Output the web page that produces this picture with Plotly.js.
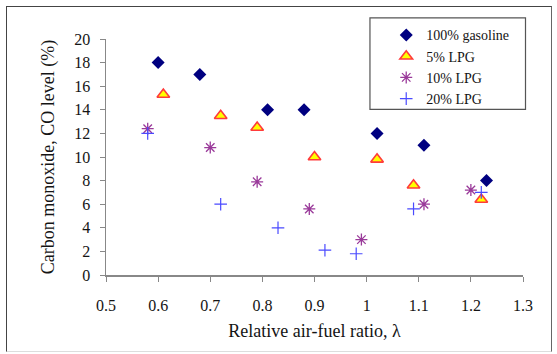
<!DOCTYPE html>
<html>
<head>
<meta charset="utf-8">
<script src="https://cdn.plot.ly/plotly-3.0.1.min.js"></script>
<style>
  html, body { margin: 0; padding: 0; background: #fff; }
  #wrap { position: relative; width: 557px; height: 354px; overflow: hidden; }
  #chart { position: absolute; left: 0; top: 0; width: 557px; height: 354px; }
  #frame { position: absolute; left: 6px; top: 6px; width: 544px; height: 344px;
           border-left: 1px solid #444; border-top: 1px solid #444; border-right: 1px solid #666;
           border-bottom: 1px solid #ddd; pointer-events: none; }
</style>
</head>
<body>
<div id="wrap">
  <div id="chart"></div>
  <div id="frame"></div>
</div>
<script>
// Data
const seriesNames = ["100% gasoline", "5% LPG", "10% LPG", "20% LPG"];

const gasolineX = [0.60, 0.68, 0.81, 0.88, 1.02, 1.11, 1.23];
const gasolineY = [18.0, 17.0, 14.0, 14.0, 12.0, 11.0, 8.0];

const lpg5X = [0.61, 0.72, 0.79, 0.90, 1.02, 1.09, 1.22];
const lpg5Y = [15.3, 13.5, 12.5, 10.0, 9.8, 7.6, 6.4];

const lpg10X = [0.58, 0.70, 0.79, 0.89, 0.99, 1.11, 1.20];
const lpg10Y = [12.4, 10.8, 7.9, 5.6, 3.0, 6.0, 7.2];

const lpg20X = [0.58, 0.72, 0.83, 0.92, 0.98, 1.09, 1.22];
const lpg20Y = [12.0, 6.0, 4.0, 2.1, 1.8, 5.6, 7.0];

const xTicks = [0.5, 0.6, 0.7, 0.8, 0.9, 1.0, 1.1, 1.2, 1.3];
const xTickText = ["0.5", "0.6", "0.7", "0.8", "0.9", "1", "1.1", "1.2", "1.3"];
const yTicks = [0, 2, 4, 6, 8, 10, 12, 14, 16, 18, 20];

const serif = "Liberation Serif, Times New Roman, serif";
const textColor = "#141414";

const traces = [
  {
    x: gasolineX, y: gasolineY, name: seriesNames[0], type: "scatter", mode: "markers",
    marker: { symbol: "diamond", size: 10, color: "#000080", line: { width: 0 } }
  },
  {
    x: lpg5X, y: lpg5Y, name: seriesNames[1], type: "scatter", mode: "markers",
    marker: { symbol: "triangle-up", size: 11, color: "#FFFF00", line: { width: 1.6, color: "#FF3b3b" } }
  },
  {
    x: lpg10X, y: lpg10Y, name: seriesNames[2], type: "scatter", mode: "markers",
    marker: { symbol: "asterisk-open", size: 10, color: "#9a3a9a", line: { width: 1.3, color: "#9a3a9a" } }
  },
  {
    x: lpg20X, y: lpg20Y, name: seriesNames[3], type: "scatter", mode: "markers",
    marker: { symbol: "cross-thin-open", size: 9, color: "#4a4aff", line: { width: 1.2, color: "#4a4aff" } }
  }
];

const layout = {
  width: 557, height: 354,
  margin: { l: 106, r: 34, t: 38.5, b: 79, pad: 0 },
  paper_bgcolor: "#ffffff", plot_bgcolor: "#ffffff",
  font: { family: serif, color: textColor },
  showlegend: true,
  legend: {
    x: 0.672, y: 1.083, xanchor: "left", yanchor: "top",
    bgcolor: "rgba(0,0,0,0)", borderwidth: 0,
    font: { family: serif, size: 14, color: textColor },
    itemwidth: 30
  },
  xaxis: {
    range: [0.5, 1.3], tickvals: xTicks, ticktext: xTickText,
    showgrid: false, zeroline: false, showline: true, linecolor: "#888", linewidth: 1.5,
    ticks: "outside", ticklen: 5, tickcolor: "#888", tickwidth: 1,
    tickfont: { family: serif, size: 16, color: textColor },
    ticklabelstandoff: 10,
    title: { text: "Relative air-fuel ratio, λ", font: { family: serif, size: 18, color: textColor }, standoff: 11 }
  },
  yaxis: {
    range: [0, 20], tickvals: yTicks,
    showgrid: false, zeroline: false, showline: true, linecolor: "#888", linewidth: 1.5,
    ticks: "outside", ticklen: 5, tickcolor: "#888", tickwidth: 1,
    tickfont: { family: serif, size: 16, color: textColor },
    ticklabelstandoff: 6,
    title: { text: "Carbon monoxide, CO level (%)", font: { family: serif, size: 18, color: textColor }, standoff: 15 }
  },
  shapes: [
    { type: "rect", xref: "paper", yref: "paper", x0: 0.633, x1: 1.006, y0: 0.702, y1: 1.0896,
      line: { color: "#555", width: 1.2 }, fillcolor: "rgba(0,0,0,0)" }
  ]
};

Plotly.newPlot("chart", traces, layout, { displayModeBar: false, staticPlot: true });
</script>
</body>
</html>
